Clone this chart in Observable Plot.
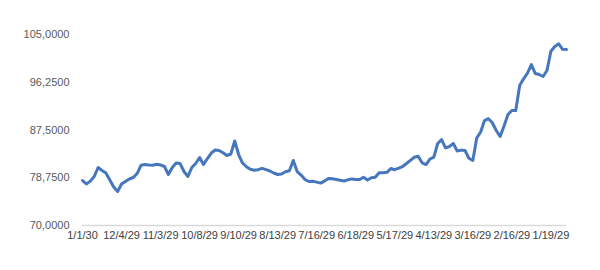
<!DOCTYPE html>
<html>
<head>
<meta charset="utf-8">
<script src="https://cdn.jsdelivr.net/npm/d3@7"></script>
<script src="https://cdn.jsdelivr.net/npm/@observablehq/plot@0.6"></script>
<style>
  html, body { margin: 0; padding: 0; background: #fff; }
  #chart { width: 600px; height: 270px; }
  svg { font-family: "Liberation Sans", Arial, sans-serif; }
</style>
</head>
<body>
<div id="chart"></div>
<script>
// Category labels shown on the x axis (every 10th sample, newest on the left)
const xTickLabels = ["1/1/30","12/4/29","11/3/29","10/8/29","9/10/29","8/13/29","7/16/29","6/18/29","5/17/29","4/13/29","3/16/29","2/16/29","1/19/29"];
const xTickIndex = [0,10,20,30,40,50,60,70,80,90,100,110,120];

// Y axis tick values and their labels as printed
const yTickValues = [70000, 78750, 87500, 96250, 105000];
const yTickLabels = ["70,0000","78,7500","87,5000","96,2500","105,0000"];

// Series values (left to right)
const values = [
  78244,77621,78134,78977,80626,80076,79618,78336,77053,76229,
  77603,78061,78519,78794,79526,81047,81175,81084,81047,81230,
  81084,80809,79343,80626,81468,81358,79893,78977,80626,81358,
  82458,81175,82274,83282,83832,83740,83337,82824,83099,85480,
  83007,81450,80772,80296,80131,80223,80479,80223,79984,79618,
  79343,79435,79838,80021,81908,79893,79252,78427,78061,78097,
  77951,77768,78134,78610,78555,78427,78281,78152,78372,78537,
  78427,78427,78849,78336,78757,78830,79655,79673,79746,80442,
  80223,80497,80809,81358,81945,82513,82677,81487,81175,82183,
  82513,85022,85755,84235,84473,85022,83648,83813,83740,82329,
  81908,86030,87129,89236,89566,88833,87404,86305,88228,90335,
  91068,91068,95648,96875,97938,99495,97846,97663,97297,98396,
  101932,102793,103287,102280,102243
];

const data = values.map((v, i) => ({i, v}));

const chart = Plot.plot({
  width: 600,
  height: 270,
  marginLeft: 82,
  marginRight: 34,
  marginTop: 34,
  marginBottom: 45,
  style: {fontFamily: "'Liberation Sans', Arial, sans-serif", fontSize: "11px", background: "#fff"},
  x: {
    type: "linear",
    domain: [0, values.length - 1],
    label: null
  },
  y: {
    domain: [70000, 105000],
    label: null
  },
  marks: [
    Plot.ruleY([70000], {stroke: "#d9d9d9", strokeWidth: 1.5}),
    Plot.axisX({ticks: xTickIndex, tickFormat: (d) => xTickLabels[xTickIndex.indexOf(d)], tickSize: 0, tickPadding: 6, label: null, fill: "#404040", fontSize: 11}),
    Plot.axisY({ticks: yTickValues, tickFormat: (d) => yTickLabels[yTickValues.indexOf(d)], tickSize: 0, tickPadding: 13, label: null, fill: "#595959", fontSize: 11}),
    Plot.line(data, {x: "i", y: "v", stroke: "#4677BD", strokeWidth: 3, strokeLinejoin: "round", curve: "linear"})
  ]
});
document.getElementById("chart").appendChild(chart);
</script>
</body>
</html>
